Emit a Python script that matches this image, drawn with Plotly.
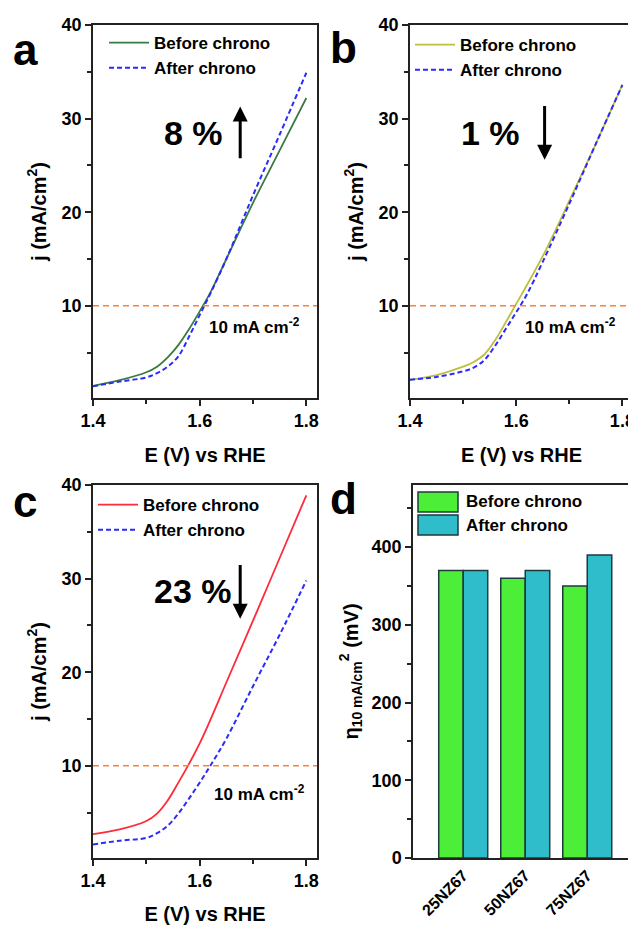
import plotly.graph_objects as go

FONT = "Arial, 'Liberation Sans', sans-serif"
# the page body adds an 8 px margin; the figure is sized so that the page is 636x925
PAGE_OFF = 8
W, H = 636 - PAGE_OFF, 925 - PAGE_OFF

# ---------------- data ----------------
E = [1.40, 1.45, 1.50, 1.52, 1.54, 1.56, 1.58, 1.60, 1.62, 1.65, 1.70, 1.75, 1.80]
a_before = [1.45, 2.05, 2.9, 3.5, 4.5, 5.8, 7.5, 9.4, 11.4, 15.0, 21.0, 26.6, 32.2]
a_after = [1.4, 1.9, 2.35, 2.8, 3.5, 4.6, 6.7, 9.0, 11.3, 15.0, 21.8, 28.3, 34.9]
b_before = [2.1, 2.6, 3.5, 4.0, 4.8, 6.3, 8.2, 10.2, 12.2, 15.3, 21.2, 27.3, 33.6]
b_after = [2.1, 2.4, 3.0, 3.4, 4.2, 5.7, 7.5, 9.3, 11.2, 14.7, 20.9, 27.3, 33.6]
c_before = [2.7, 3.2, 4.1, 4.9, 6.3, 8.2, 10.2, 12.4, 14.9, 18.9, 25.5, 32.2, 38.9]
c_after = [1.6, 2.0, 2.3, 2.8, 3.6, 4.9, 6.5, 8.2, 10.0, 12.9, 18.5, 24.0, 29.8]

samples = ["25NZ67", "50NZ67", "75NZ67"]
eta_before = [370, 360, 350]
eta_after = [370, 370, 390]

ref_j = 10
pct_labels = ["8 %", "1 %", "23 %"]
panel_letters = ["a", "b", "c", "d"]
series_names = ["Before chrono", "After chrono"]

# ---------------- colours ----------------
C_A = "#3A7A44"
C_B = "#BFBF3A"
C_C = "#FF2A3A"
C_BLUE = "#2B2BFF"
C_ORANGE = "#FF8030"
C_BAR1 = "#4DEE38"
C_BAR2 = "#2FBCCB"
C_EDGE = "#1E3A3A"


def px_x(p):
    return (p - PAGE_OFF) / W


def px_y(p):
    return 1 - (p - PAGE_OFF) / H


fig = go.Figure()

line_panels = [
    ("x", "y", "legend", a_before, a_after, C_A),
    ("x2", "y2", "legend2", b_before, b_after, C_B),
    ("x3", "y3", "legend3", c_before, c_after, C_C),
]
for xa, ya, lg, yb, yaf, col in line_panels:
    fig.add_trace(go.Scatter(x=E, y=yb, mode="lines", name=series_names[0],
                             line=dict(color=col, width=1.8, shape="spline", smoothing=1.0),
                             xaxis=xa, yaxis=ya, legend=lg))
    fig.add_trace(go.Scatter(x=E, y=yaf, mode="lines", name=series_names[1],
                             line=dict(color=C_BLUE, width=2, dash="5px,3px", shape="spline", smoothing=1.0),
                             xaxis=xa, yaxis=ya, legend=lg))
    fig.add_trace(go.Scatter(x=[1.4, 1.82], y=[ref_j, ref_j], mode="lines", showlegend=False,
                             line=dict(color=C_ORANGE, width=1.6, dash="6px,4px"),
                             xaxis=xa, yaxis=ya, hoverinfo="skip"))

fig.add_trace(go.Bar(x=samples, y=eta_before, name=series_names[0], showlegend=False,
                     marker=dict(color=C_BAR1, line=dict(color=C_EDGE, width=1.5)),
                     xaxis="x4", yaxis="y4"))
fig.add_trace(go.Bar(x=samples, y=eta_after, name=series_names[1], showlegend=False,
                     marker=dict(color=C_BAR2, line=dict(color=C_EDGE, width=1.5)),
                     xaxis="x4", yaxis="y4"))

tickfont = dict(family=FONT, size=18, color="black", weight="bold")
titlefont = dict(family=FONT, size=20, color="black", weight="bold")

frame = dict(showline=True, linecolor="#222", linewidth=1.5, mirror=True,
             ticks="outside", ticklen=6, tickwidth=1.5, tickcolor="#222",
             showgrid=False, zeroline=False, tickfont=tickfont, automargin=False)

domains = {
    "a": ([93, 317], [25, 398]),
    "b": ([410, 633], [25, 398]),
    "c": ([93, 317], [485, 858]),
    "d": ([413, 635], [485, 858]),
}


def dom(k):
    (x0, x1), (y0, y1) = domains[k]
    return [px_x(x0), px_x(x1)], [px_y(y1), px_y(y0)]


layout = dict(width=W, height=H, margin=dict(l=0, r=0, t=0, b=0, autoexpand=False),
              plot_bgcolor="white", paper_bgcolor="white", barmode="group",
              bargap=0.21, bargroupgap=0.0, font=dict(family=FONT, color="black"))

for i, k in enumerate(["a", "b", "c"]):
    sx = "" if i == 0 else str(i + 1)
    xd, yd = dom(k)
    layout["xaxis" + sx] = dict(frame, domain=xd, anchor="y" + sx, range=[1.4, 1.82],
                                tickvals=[1.4, 1.6, 1.8], ticktext=["1.4", "1.6", "1.8"],
                                minor=dict(tickvals=[1.5, 1.7], ticks="outside", ticklen=4,
                                           tickwidth=1.5, tickcolor="#222"),
                                title=dict(text="E (V) vs RHE", font=titlefont, standoff=18))
    layout["yaxis" + sx] = dict(frame, domain=yd, anchor="x" + sx, range=[0.15, 40],
                                tickvals=[10, 20, 30, 40],
                                minor=dict(tickvals=[5, 15, 25, 35], ticks="outside", ticklen=4,
                                           tickwidth=1.5, tickcolor="#222"),
                                title=dict(text="j (mA/cm<sup>2</sup>)", font=titlefont, standoff=10))

xd, yd = dom("d")
layout["xaxis4"] = dict(frame, domain=xd, anchor="y4", range=[-0.81, 2.77], ticks="",
                        tickangle=-45, tickfont=dict(family=FONT, size=16, color="black", weight="bold"))
layout["yaxis4"] = dict(frame, domain=yd, anchor="x4", range=[0, 480],
                        tickvals=[0, 100, 200, 300, 400],
                        minor=dict(tickvals=[50, 150, 250, 350, 450], ticks="outside", ticklen=4,
                                   tickwidth=1.5, tickcolor="#222"),
                        title=dict(text="η<sub>10 mA/cm</sub><sup>2</sup> (mV)", font=titlefont, standoff=8))

legfont = dict(family=FONT, size=17, color="black", weight="bold")
leg_common = dict(font=legfont, bgcolor="rgba(0,0,0,0)", borderwidth=0,
                  xanchor="left", yanchor="top", tracegroupgap=0, itemwidth=40)
layout["legend"] = dict(leg_common, x=px_x(104), y=px_y(25))
layout["legend2"] = dict(leg_common, x=px_x(410), y=px_y(27))
layout["legend3"] = dict(leg_common, x=px_x(93), y=px_y(487))

fig.update_layout(**layout)

# panel d legend (large swatches as in the reference)
shapes = []
for (y0, y1), col in zip([(492, 512), (515, 535)], [C_BAR1, C_BAR2]):
    shapes.append(dict(type="rect", xref="paper", yref="paper", x0=px_x(418), x1=px_x(458),
                       y0=px_y(y1), y1=px_y(y0), fillcolor=col, line=dict(color=C_EDGE, width=1.5)))

ann = []
for yc, nm in zip([502, 525], series_names):
    ann.append(dict(x=px_x(464), y=px_y(yc), xref="paper", yref="paper", text=nm, showarrow=False,
                    xanchor="left", yanchor="middle", font=legfont))

pct_pos = [("x", "y", 1.588, 28.5), ("x2", "y2", 1.552, 28.5), ("x3", "y3", 1.588, 28.7)]
for (xa, ya, xx, yy), lab in zip(pct_pos, pct_labels):
    ann.append(dict(x=xx, y=yy, xref=xa, yref=ya, text=lab, showarrow=False,
                    xanchor="center", yanchor="middle",
                    font=dict(family=FONT, size=34, color="black", weight="bold")))

arrows = [("x", "y", 1.676, 31.3, 25.6), ("x2", "y2", 1.6535, 25.6, 31.5), ("x3", "y3", 1.676, 25.7, 31.6)]
for xa, ya, xx, head, tail in arrows:
    ann.append(dict(x=xx, y=head, ax=xx, ay=tail, xref=xa, yref=ya, axref=xa, ayref=ya,
                    text="", showarrow=True, arrowhead=2, arrowsize=1, arrowwidth=3,
                    arrowcolor="black"))

ref_pos = [("x", "y", 1.702, 7.8), ("x2", "y2", 1.702, 7.8), ("x3", "y3", 1.712, 7.1)]
for xa, ya, xx, yy in ref_pos:
    ann.append(dict(x=xx, y=yy, xref=xa, yref=ya, text="10 mA cm<sup>-2</sup>", showarrow=False,
                    xanchor="center", yanchor="middle",
                    font=dict(family=FONT, size=17, color="black", weight="bold")))

letter_pos = [(25, 50), (343, 48), (25, 502), (343, 498)]
for (lx, ly), lt in zip(letter_pos, panel_letters):
    ann.append(dict(x=px_x(lx), y=px_y(ly), xref="paper", yref="paper", text=lt, showarrow=False,
                    xanchor="center", yanchor="middle",
                    font=dict(family=FONT, size=44, color="black", weight="bold")))

fig.update_layout(annotations=ann, shapes=shapes)

fig.write_html("out.html")
